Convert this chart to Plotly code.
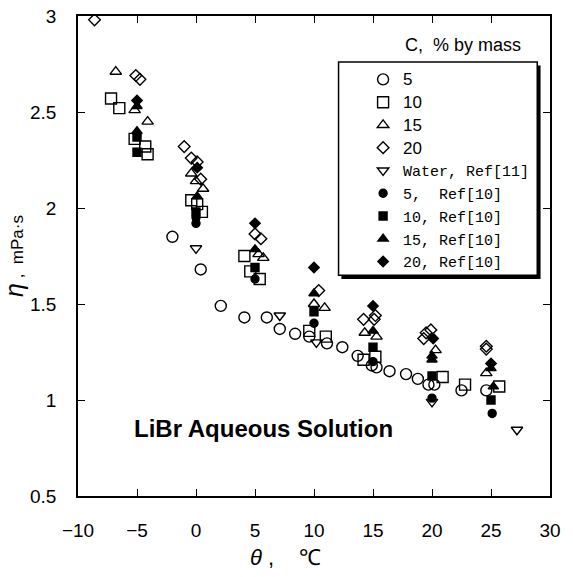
import plotly.graph_objects as go

# open symbols: this work
t_c5 = [-2.0, 0.4, 2.1, 4.1, 6.0, 7.1, 8.4, 9.6, 11.1, 12.4, 13.7, 14.9, 15.3, 16.4, 17.8, 18.8, 19.7, 20.2, 22.5, 24.6]
v_c5 = [1.85, 1.68, 1.49, 1.43, 1.43, 1.37, 1.345, 1.33, 1.295, 1.275, 1.23, 1.18, 1.17, 1.15, 1.135, 1.11, 1.08, 1.08, 1.05, 1.05]

t_c10 = [-7.2, -6.5, -5.2, -4.3, -4.1, -0.4, 0.1, 0.5, 4.1, 4.6, 5.4, 9.6, 11.0, 14.2, 15.2, 20.9, 22.8, 25.7]
v_c10 = [2.57, 2.52, 2.36, 2.32, 2.28, 2.04, 2.02, 1.98, 1.75, 1.67, 1.63, 1.36, 1.33, 1.21, 1.225, 1.12, 1.08, 1.07]

t_c15 = [-6.8, -5.2, -4.1, -0.4, 0.0, 0.6, 5.3, 5.7, 10.0, 10.9, 14.3, 15.3, 20.3, 24.6]
v_c15 = [2.71, 2.51, 2.45, 2.18, 2.14, 2.10, 1.76, 1.74, 1.50, 1.48, 1.35, 1.33, 1.26, 1.14]

t_c20 = [-8.6, -5.1, -4.75, -1.0, -0.4, 0.1, 0.4, 5.0, 5.5, 10.4, 14.2, 15.1, 15.2, 19.5, 19.9, 19.3, 24.6, 24.6]
v_c20 = [2.98, 2.69, 2.67, 2.32, 2.26, 2.24, 2.15, 1.865, 1.84, 1.57, 1.42, 1.42, 1.44, 1.35, 1.365, 1.32, 1.28, 1.265]

# water, Ref[11]
t_w = [0.0, 7.1, 10.2, 20.0, 27.2]
v_w = [1.79, 1.44, 1.30, 0.99, 0.845]

# filled symbols: Ref[10]
t_r5 = [0.0, 0.0, 5.0, 10.0, 15.0, 20.0, 25.1]
v_r5 = [1.95, 1.92, 1.63, 1.40, 1.20, 1.01, 0.93]

t_r10 = [-5.0, -5.0, 0.0, 5.0, 10.0, 15.0, 20.0, 25.0]
v_r10 = [2.37, 2.29, 1.98, 1.69, 1.46, 1.275, 1.125, 1.00]

t_r15 = [-5.0, -5.0, 0.1, 5.0, 10.0, 15.0, 20.0, 20.0, 25.0, 25.2]
v_r15 = [2.53, 2.40, 2.06, 1.785, 1.555, 1.36, 1.23, 1.21, 1.165, 1.07]

t_r20 = [-5.0, 0.1, 5.0, 10.0, 15.0, 20.1, 25.0]
v_r20 = [2.56, 2.21, 1.92, 1.69, 1.49, 1.32, 1.19]

mono = "font-family:'Liberation Mono';font-size:15px"
num = "font-size:17px"
series = [
    (f"<span style=\"{num}\">5</span>", t_c5, v_c5, "circle-open", 11),
    (f"<span style=\"{num}\">10</span>", t_c10, v_c10, "square-open", 11),
    (f"<span style=\"{num}\">15</span>", t_c15, v_c15, "triangle-up-open", 10),
    (f"<span style=\"{num}\">20</span>", t_c20, v_c20, "diamond-open", 9),
    (f"<span style=\"{mono}\">Water, Ref[11]</span>", t_w, v_w, "triangle-down-open", 10),
    (f"<span style=\"{mono}\">5,  Ref[10]</span>", t_r5, v_r5, "circle", 8),
    (f"<span style=\"{mono}\">10, Ref[10]</span>", t_r10, v_r10, "square", 8),
    (f"<span style=\"{mono}\">15, Ref[10]</span>", t_r15, v_r15, "triangle-up", 9),
    (f"<span style=\"{mono}\">20, Ref[10]</span>", t_r20, v_r20, "diamond", 8),
]

fig = go.Figure()
for name, xs, ys, sym, sz in series:
    fig.add_scatter(x=xs, y=ys, mode="markers", name=name,
                    marker=dict(symbol=sym, size=sz, color="black",
                                line=dict(color="black", width=1.4)))

axis_common = dict(showgrid=False, zeroline=False, showline=True, linecolor="black",
                   linewidth=1.5, mirror="ticks", ticks="inside", ticklen=7,
                   tickwidth=1.2, tickcolor="black", ticklabelstandoff=16,
                   tickfont=dict(family="Liberation Sans", size=19, color="black"))

fig.update_xaxes(range=[-10, 30], dtick=5, **axis_common)
fig.update_yaxes(range=[0.5, 3], dtick=0.5, automargin=False,
                 title=dict(text="<span style='font-size:25px'><i>η</i></span> ,\u00a0\u00a0mPa·s",
                            standoff=2,
                            font=dict(family="Liberation Sans", size=17, color="black")),
                 **axis_common)

# x axis title
fig.add_annotation(text="<i>θ</i> ,\u00a0\u00a0\u00a0\u00a0℃", xref="paper", yref="paper", x=0.44, y=-0.129,
                   xanchor="center", yanchor="middle", showarrow=False,
                   font=dict(family="Liberation Sans", size=22, color="black"))

# legend box with drop shadow
fig.add_shape(type="rect", xref="paper", yref="paper", x0=0.558, x1=0.980, y0=0.452, y1=0.897,
              fillcolor="black", line=dict(width=0), layer="above")
fig.add_shape(type="rect", xref="paper", yref="paper", x0=0.552, x1=0.973, y0=0.460, y1=0.904,
              fillcolor="white", line=dict(color="black", width=1.5), layer="above")

fig.add_annotation(text="C,\u00a0\u00a0% by mass", xref="paper", yref="paper", x=0.942, y=0.94,
                   xanchor="right", yanchor="middle", showarrow=False,
                   font=dict(family="Liberation Sans", size=18, color="black"))
fig.add_annotation(text="<b>LiBr Aqueous Solution</b>", xref="paper", yref="paper", x=0.115, y=0.14,
                   xanchor="left", yanchor="middle", showarrow=False,
                   font=dict(family="Liberation Sans", size=24, color="black"))

fig.update_layout(width=573, height=577, autosize=False,
                  margin=dict(l=78, r=15, t=16, b=81),
                  plot_bgcolor="white", paper_bgcolor="white",
                  showlegend=True,
                  legend=dict(x=0.604, y=0.902, xanchor="left", yanchor="top",
                              bgcolor="rgba(0,0,0,0)", borderwidth=0,
                              font=dict(family="Liberation Sans", size=15.2, color="black"),
                              itemwidth=30, tracegroupgap=0))

fig.write_html("out.html", post_script="document.body.style.margin='0';",
               config={"displayModeBar": False})
